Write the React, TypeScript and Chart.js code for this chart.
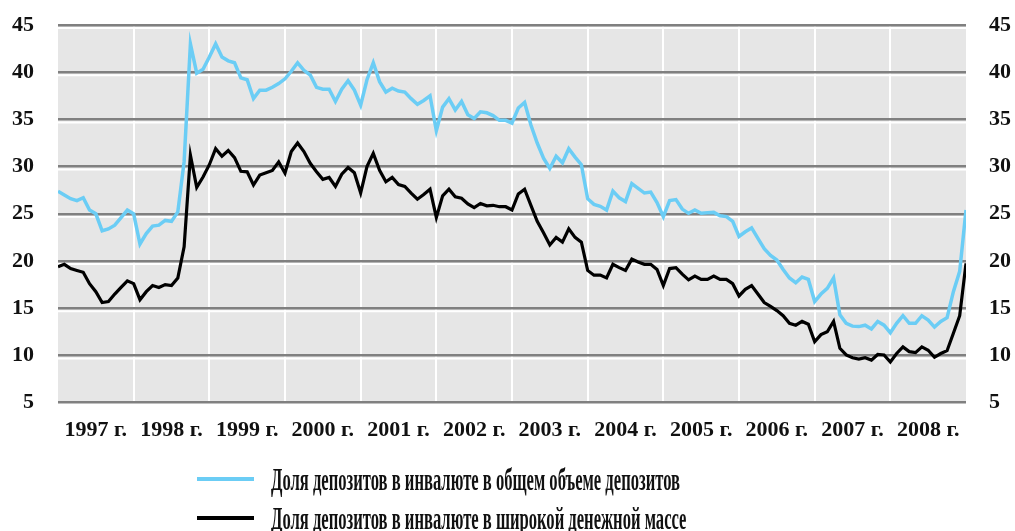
import React, { useEffect, useRef } from "react";
import { Chart, registerables } from "chart.js";

Chart.register(...registerables);

// Monthly data, January 1997 – January 2009
const years = ["1997 г.", "1998 г.", "1999 г.", "2000 г.", "2001 г.", "2002 г.", "2003 г.", "2004 г.", "2005 г.", "2006 г.", "2007 г.", "2008 г."];

const seriesLabels = [
  "Доля депозитов в инвалюте в общем объеме депозитов",
  "Доля депозитов в инвалюте в широкой денежной массе",
];

const shareInTotalDeposits = [
  27.4, 27.0, 26.6, 26.4, 26.7, 25.4, 25.0, 23.2, 23.4, 23.8, 24.6, 25.4,
  25.0, 21.8, 22.9, 23.7, 23.8, 24.3, 24.2, 25.2, 30.5, 43.0, 39.9, 40.3,
  41.6, 43.0, 41.6, 41.2, 41.0, 39.4, 39.2, 37.2, 38.1, 38.1, 38.4, 38.8,
  39.3, 40.1, 41.0, 40.2, 39.7, 38.4, 38.2, 38.2, 36.9, 38.2, 39.1, 38.1,
  36.5, 39.2, 41.0, 39.0, 37.9, 38.3, 38.0, 37.9, 37.2, 36.6, 37.0, 37.5,
  33.8, 36.3, 37.2, 36.0, 36.9, 35.5, 35.1, 35.8, 35.7, 35.4, 34.9, 34.9,
  34.6, 36.2, 36.8, 34.4, 32.5, 30.9, 29.8, 31.1, 30.4, 31.9, 31.0, 30.2,
  26.6, 26.0, 25.8, 25.4, 27.4, 26.7, 26.3, 28.2, 27.7, 27.2, 27.3, 26.2,
  24.7, 26.4, 26.5, 25.5, 25.05, 25.4, 25.05, 25.1, 25.15, 24.8, 24.7, 24.2,
  22.6, 23.1, 23.5, 22.4, 21.3, 20.6, 20.1, 19.1, 18.2, 17.7, 18.3, 18.05,
  15.7, 16.5, 17.1, 18.2, 14.3, 13.4, 13.1, 13.05, 13.2, 12.8, 13.6, 13.2,
  12.4, 13.4, 14.2, 13.4, 13.4, 14.2, 13.75, 13.0, 13.6, 14.0, 16.75, 18.9,
  25.4,
];

const shareInBroadMoney = [
  19.4, 19.65, 19.2, 19.0, 18.8, 17.6, 16.75, 15.6, 15.7, 16.5, 17.2, 17.9,
  17.6, 15.9, 16.75, 17.4, 17.2, 17.5, 17.4, 18.2, 21.5, 31.2, 27.8, 28.9,
  30.2, 31.9, 31.1, 31.7, 30.95, 29.5, 29.45, 28.05, 29.1, 29.35, 29.6, 30.5,
  29.3, 31.6, 32.5, 31.6, 30.35, 29.45, 28.65, 28.85, 27.9, 29.2, 29.9, 29.35,
  27.2, 30.0, 31.4, 29.6, 28.4, 28.85, 28.1, 27.9, 27.2, 26.55, 27.05, 27.6,
  24.6, 26.9, 27.6, 26.8, 26.65, 26.05, 25.65, 26.1, 25.85, 25.9, 25.75, 25.75,
  25.4, 27.1, 27.6, 25.9, 24.2, 23.0, 21.7, 22.5, 22.0, 23.4, 22.5, 22.0,
  19.0, 18.5, 18.5, 18.2, 19.65, 19.3, 19.0, 20.2, 19.9, 19.65, 19.65, 19.1,
  17.4, 19.2, 19.3, 18.6, 18.0, 18.4, 18.05, 18.05, 18.4, 18.05, 18.05, 17.6,
  16.3, 17.0, 17.4, 16.5, 15.6, 15.2, 14.75, 14.2, 13.4, 13.2, 13.6, 13.3,
  11.45, 12.2, 12.5, 13.6, 10.75, 10.05, 9.75, 9.6, 9.75, 9.5, 10.1, 10.05,
  9.3, 10.2, 10.9, 10.4, 10.3, 10.9, 10.55, 9.8, 10.2, 10.5, 12.35, 14.2,
  19.75,
];

const yMin = 5;
const yMax = 45;
const yStep = 5;
const monthsPerYear = 12;

const FONT = "'Liberation Serif', 'Times New Roman', serif";
const BLUE = "#6bcdf5";
const BLACK = "#000000";

const backgroundPlugin = {
  id: "plotBackground",
  beforeDraw(chart: any) {
    const { ctx, chartArea: a, scales } = chart;
    ctx.save();
    ctx.fillStyle = "#e6e6e6";
    ctx.fillRect(a.left, a.top, a.right - a.left, a.bottom - a.top);
    // vertical white year separators
    ctx.strokeStyle = "#ffffff";
    ctx.lineWidth = 2;
    for (let j = 1; j < years.length; j++) {
      const px = Math.round(scales.x.getPixelForValue(j * monthsPerYear));
      ctx.beginPath();
      ctx.moveTo(px, a.top);
      ctx.lineTo(px, a.bottom);
      ctx.stroke();
    }
    // white highlight under each horizontal grid line
    ctx.lineWidth = 2;
    scales.y.ticks.forEach((t: any) => {
      const py = scales.y.getPixelForValue(t.value) + 3;
      if (py < a.bottom) {
        ctx.beginPath();
        ctx.moveTo(a.left, py);
        ctx.lineTo(a.right, py);
        ctx.stroke();
      }
    });
    ctx.restore();
  },
};

const legendPlugin = {
  id: "bottomLegend",
  afterDraw(chart: any) {
    const { ctx } = chart;
    const ds = chart.data.datasets;
    ctx.save();
    ctx.font = `bold 31px ${FONT}`;
    const sx = 409 / ctx.measureText(ds[0].label).width;
    ds.forEach((d: any, i: number) => {
      const y = 479 + i * 39;
      ctx.strokeStyle = d.borderColor;
      ctx.lineWidth = 4;
      ctx.beginPath();
      ctx.moveTo(197, y);
      ctx.lineTo(254, y);
      ctx.stroke();
      ctx.save();
      ctx.translate(271, y + 11);
      ctx.scale(sx, 1);
      ctx.fillStyle = "#111111";
      ctx.textBaseline = "alphabetic";
      ctx.textAlign = "left";
      ctx.fillText(d.label, 0, 0);
      ctx.restore();
    });
    ctx.restore();
  },
};

export default function App() {
  const canvasRef = useRef<HTMLCanvasElement | null>(null);

  useEffect(() => {
    if (!canvasRef.current) return;
    const tickFont = { family: FONT, size: 22, weight: "bold" as const };
    const chart = new Chart(canvasRef.current, {
      type: "line",
      data: {
        datasets: [
          {
            label: seriesLabels[0],
            data: shareInTotalDeposits.map((v, i) => ({ x: i, y: v })),
            borderColor: BLUE,
            backgroundColor: BLUE,
            borderWidth: 3.5,
            pointRadius: 0,
            tension: 0,
            yAxisID: "y",
          },
          {
            label: seriesLabels[1],
            data: shareInBroadMoney.map((v, i) => ({ x: i, y: v })),
            borderColor: BLACK,
            backgroundColor: BLACK,
            borderWidth: 3.2,
            pointRadius: 0,
            tension: 0,
            yAxisID: "y",
          },
        ],
      },
      options: {
        responsive: false,
        animation: false,
        layout: { padding: { top: 25, left: 0, right: 0, bottom: 0 } },
        plugins: {
          legend: { display: false },
          tooltip: { enabled: false },
        },
        scales: {
          x: {
            type: "linear",
            min: 0,
            max: (years.length * monthsPerYear),
            afterBuildTicks: (scale: any) => {
              scale.ticks = years.map((_, j) => ({ value: j * monthsPerYear + monthsPerYear / 2 }));
            },
            afterFit: (scale: any) => {
              scale.height = 128.4;
            },
            grid: { display: false, drawTicks: false },
            border: { display: false },
            ticks: {
              autoSkip: false,
              maxRotation: 0,
              padding: 15,
              color: "#111111",
              font: tickFont,
              callback: (value: any) => years[Math.round((Number(value) - monthsPerYear / 2) / monthsPerYear)],
            },
          },
          y: {
            position: "left",
            min: yMin,
            max: yMax,
            afterFit: (scale: any) => {
              scale.width = 58;
              scale.paddingTop = 0;
              scale.paddingBottom = 0;
            },
            grid: { color: "#808080", lineWidth: 2.5, drawTicks: false },
            border: { display: false },
            ticks: { stepSize: yStep, padding: 24, color: "#111111", font: tickFont },
          },
          y1: {
            position: "right",
            min: yMin,
            max: yMax,
            afterFit: (scale: any) => {
              scale.width = 49;
              scale.paddingTop = 0;
              scale.paddingBottom = 0;
            },
            grid: { display: false, drawTicks: false },
            border: { display: false },
            ticks: { stepSize: yStep, padding: 23, color: "#111111", font: tickFont },
          },
        },
      } as any,
      plugins: [backgroundPlugin, legendPlugin],
    });
    return () => chart.destroy();
  }, []);

  return (
    <div style={{ position: "absolute", left: 0, top: 0, width: 1015, height: 531, background: "#ffffff" }}>
      <canvas ref={canvasRef} width={1015} height={531} style={{ display: "block" }} />
    </div>
  );
}
